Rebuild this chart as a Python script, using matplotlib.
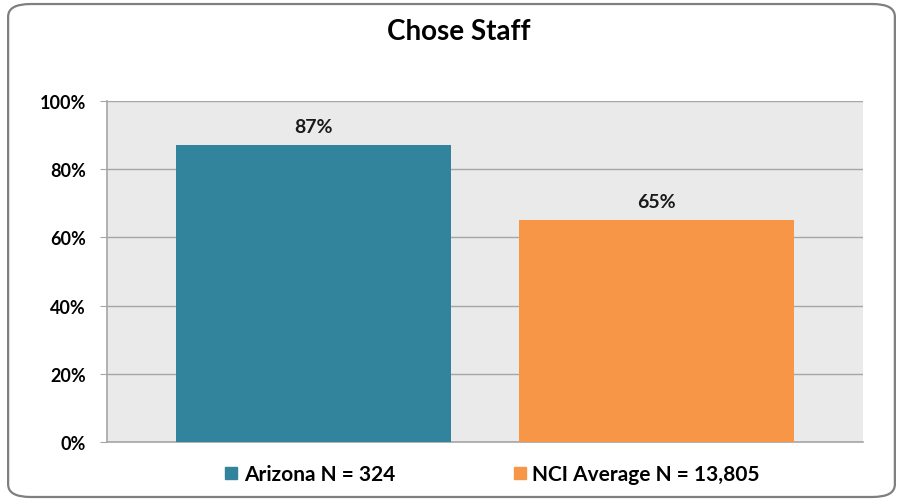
import matplotlib.pyplot as plt
from matplotlib.patches import FancyBboxPatch
from matplotlib.lines import Line2D

plt.rcParams['font.family'] = ['Lato', 'DejaVu Sans']

series = ['Arizona N = 324', 'NCI Average N = 13,805']
values = [87, 65]
colors = ['#31849B', '#F79646']
yticks = [0, 20, 40, 60, 80, 100]
ytick_labels = ['0%', '20%', '40%', '60%', '80%', '100%']
title = 'Chose Staff'

fig = plt.figure(figsize=(9.03, 5.02), dpi=100)

# rounded outer frame
frame = FancyBboxPatch((0.009, 0.008), 0.982, 0.982,
                       boxstyle='round,pad=0,rounding_size=0.025',
                       transform=fig.transFigure, facecolor='none',
                       edgecolor='#7F7F7F', linewidth=1.6, zorder=0)
fig.patches.append(frame)

ax = fig.add_axes([0.1185, 0.1175, 0.8372, 0.6793])
ax.set_facecolor('#EAEAEA')

x = list(range(len(values)))
ax.bar(x, values, width=0.8, color=colors, zorder=3)
for xi, v in zip(x, values):
    ax.text(xi, v + 3, f'{v}%', ha='center', va='bottom',
            fontsize=14, fontweight='bold', color='#1a1a1a')

ax.set_xlim(-0.6, 1.6)
ax.set_ylim(0, 100)
ax.set_yticks(yticks)
ax.set_yticklabels(ytick_labels, fontsize=13, fontweight='bold')
ax.set_xticks([])
ax.yaxis.grid(True, color='#A6A6A6', linewidth=1, zorder=0)
ax.set_axisbelow(True)
ax.tick_params(axis='y', length=5, color='#A6A6A6', pad=10)
for s in ['top', 'right']:
    ax.spines[s].set_visible(False)
for s in ['left', 'bottom']:
    ax.spines[s].set_color('#A6A6A6')
    ax.spines[s].set_linewidth(1.2)

fig.text(0.508, 0.936, title, ha='center', va='center',
         fontsize=20, fontweight='bold')

handles = [Line2D([], [], marker='s', linestyle='none', markersize=8,
                  markerfacecolor=c, markeredgecolor=c) for c in colors]
leg = fig.legend(handles, series, loc='center', bbox_to_anchor=(0.5454, 0.054),
                 ncol=2, frameon=False, handlelength=0.6, handletextpad=0.3,
                 columnspacing=5.7, prop={'size': 15, 'weight': 'bold'})

fig.savefig('out.png', dpi=100)
